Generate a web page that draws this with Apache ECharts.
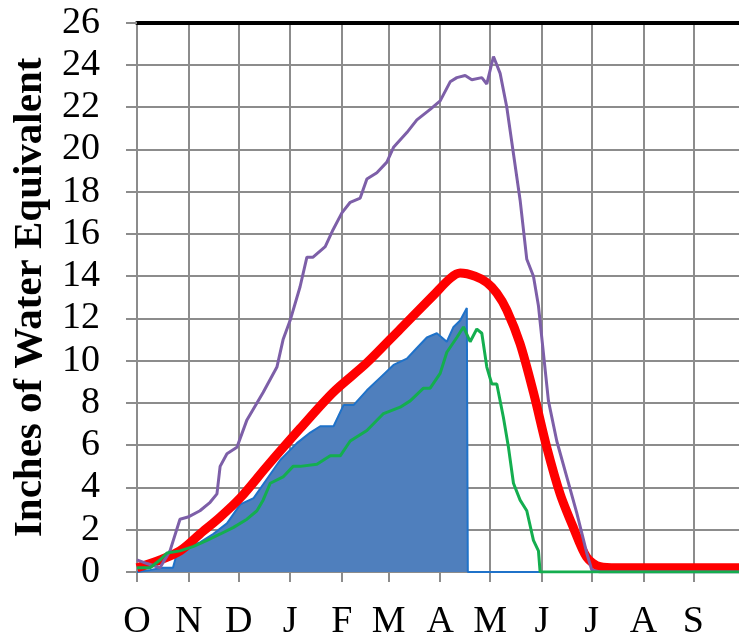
<!DOCTYPE html>
<html>
<head>
<meta charset="utf-8">
<script src="https://cdn.jsdelivr.net/npm/echarts@6/dist/echarts.min.js"></script>
<style>
  html, body { margin: 0; padding: 0; background: #fff; }
  #chart { width: 739px; height: 637px; }
</style>
</head>
<body>
<div id="chart"></div>
<script>
// day of water year (0 = Oct 1) where each month starts
var monthStarts = [0, 31, 61, 92, 123, 151, 182, 212, 243, 273, 304, 334];
var monthLetters = ['O', 'N', 'D', 'J', 'F', 'M', 'A', 'M', 'J', 'J', 'A', 'S'];

// current year snowpack, [day, inches]
var currentYear = [
  [0, 0], [8, 0.1], [15.6, 0.2], [21.6, 0.2], [24, 0.9], [30, 1.2], [37.8, 1.4],
  [45.7, 1.8], [54, 2.3], [62, 3.2], [70, 3.5], [78, 4.4], [86, 5.3], [96, 6.1],
  [104, 6.6], [110, 6.9], [118, 6.9], [124, 7.9], [130, 7.9], [138, 8.6],
  [146, 9.2], [154, 9.8], [162, 10.1], [168, 10.6], [174, 11.1], [180, 11.3],
  [186, 10.9], [190, 11.6], [194, 11.9], [198, 12.5], [198.6, 0], [365, 0]
];

// median
var medianYear = [
  [0, 0.2], [13.8, 0.57], [25.8, 1.0], [37.8, 1.8], [49.9, 2.6], [61.9, 3.5],
  [78, 5.0], [98, 6.8], [117.7, 8.5], [138, 9.9], [158, 11.5], [178, 13.1],
  [188, 13.9], [194, 14.15], [203, 14.0], [210, 13.7], [216, 13.2], [222, 12.4],
  [230, 10.8], [238, 8.5], [246, 5.9], [254, 3.7], [262, 2.1], [270, 0.7],
  [278, 0.25], [288, 0.2], [365, 0.2]
];

// maximum
var maxYear = [
  [0, 0.57], [6, 0.4], [13.8, 0.2], [19.8, 1.0], [25.8, 2.5], [30.6, 2.6],
  [37.8, 2.9], [43.9, 3.3], [48, 3.7], [49.9, 5.0], [54, 5.6], [60, 5.9],
  [66, 7.2], [75.7, 8.5], [84, 9.7], [87.7, 11], [91.9, 11.9], [97.9, 13.5],
  [102, 14.9], [105.7, 14.9], [113, 15.4], [117.7, 16.2], [123, 17.0],
  [128, 17.5], [134, 17.7], [138, 18.6], [144, 18.9], [150, 19.4], [154, 20.1],
  [162, 20.8], [168, 21.4], [176, 21.9], [182, 22.3], [188, 23.2], [192, 23.4],
  [197, 23.5], [201, 23.3], [207, 23.4], [210, 23.1], [214, 24.4], [218, 23.6],
  [222, 22.0], [226, 19.8], [230, 17.6], [234, 14.8], [238, 14.0], [241, 12.6],
  [247, 8.1], [252, 6.2], [258, 4.5], [264, 2.8], [270, 0.9], [273, 0.1],
  [278, 0], [365, 0]
];

// minimum
var minYear = [
  [0, 0.2], [7.8, 0.2], [13.8, 0.57], [18, 0.9], [25.8, 1.0], [33.6, 1.2],
  [42, 1.5], [50, 1.8], [57.7, 2.1], [66, 2.5], [72, 2.9], [75.7, 3.4],
  [80, 4.2], [87.7, 4.5], [93.7, 5.0], [98, 5.0], [108, 5.1], [116, 5.5],
  [122, 5.5], [128, 6.2], [138, 6.7], [148, 7.5], [158, 7.8], [164, 8.1],
  [172, 8.7], [176, 8.7], [182, 9.4], [186, 10.4], [192, 11.1], [196, 11.6],
  [200, 10.9], [204, 11.5], [207, 11.3], [210, 9.7], [213, 8.9], [216, 8.9],
  [220, 7.3], [223, 5.9], [226, 4.2], [230, 3.4], [234, 2.9], [238, 1.5],
  [241, 1.0], [242, 0], [365, 0]
];

var gridGray = '#8c8c8c';
var serif = '"Liberation Serif", "Times New Roman", serif';

var chart = echarts.init(document.getElementById('chart'));

chart.setOption({
  animation: false,
  backgroundColor: '#fff',
  grid: { left: 137, right: -6, top: 22.7, bottom: 65, containLabel: false, outerBoundsMode: 'none' },
  xAxis: [{
    type: 'value', min: 0, max: 365, position: 'bottom',
    axisLine: { show: true, lineStyle: { color: gridGray, width: 2 } },
    axisTick: { show: true, customValues: monthStarts, length: 10, lineStyle: { color: gridGray, width: 2 } },
    axisLabel: {
      customValues: monthStarts, margin: 31, fontSize: 38, fontFamily: serif, color: '#000',
      formatter: function (v) { return monthLetters[monthStarts.indexOf(v)]; }
    },
    splitLine: { show: false }
  }, {
    type: 'value', min: 0, max: 365, position: 'top',
    axisLine: { show: true, lineStyle: { color: '#000', width: 4 } },
    axisTick: { show: false }, axisLabel: { show: false }, splitLine: { show: false }
  }],
  yAxis: {
    type: 'value', min: 0, max: 26, interval: 2,
    name: 'Inches of Water Equivalent', nameLocation: 'middle', nameRotate: 90, nameGap: 79,
    nameTextStyle: { fontSize: 41, fontWeight: 'bold', fontFamily: serif, color: '#000' },
    axisLine: { show: true, lineStyle: { color: gridGray, width: 2 } },
    axisTick: { show: true, length: 11, lineStyle: { color: gridGray, width: 2 } },
    axisLabel: { margin: 37, fontSize: 38, fontFamily: serif, color: '#000' },
    splitLine: { lineStyle: { color: gridGray, width: 2 } }
  },
  series: [{
    // month grid lines, kept under the data
    type: 'line', data: [], z: 0, silent: true,
    markLine: {
      z: 0, silent: true, symbol: 'none', label: { show: false },
      lineStyle: { color: gridGray, width: 2, type: 'solid' },
      data: monthStarts.slice(1).concat([365]).map(function (d) { return { xAxis: d }; })
    }
  }, {
    name: 'Current', type: 'line', data: currentYear, z: 2, showSymbol: false,
    lineStyle: { color: '#1f72c9', width: 2 },
    areaStyle: { color: '#4f7fbd', opacity: 1 }
  }, {
    name: 'Median', type: 'line', data: medianYear, z: 3, showSymbol: false, smooth: 0.3,
    lineStyle: { color: '#ff0000', width: 9 }
  }, {
    name: 'Max', type: 'line', data: maxYear, z: 4, showSymbol: false,
    lineStyle: { color: '#7d5fa8', width: 3 }
  }, {
    name: 'Min', type: 'line', data: minYear, z: 5, showSymbol: false,
    lineStyle: { color: '#14ae4f', width: 3 }
  }]
});
</script>
</body>
</html>
